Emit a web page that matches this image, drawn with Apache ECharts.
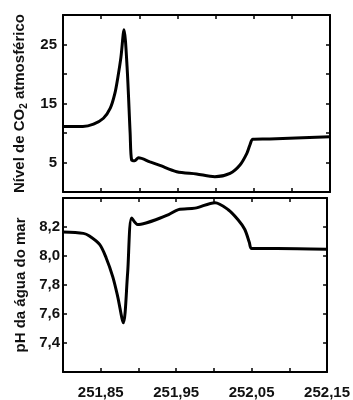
<!DOCTYPE html>
<html><head><meta charset="utf-8">
<script src="https://cdn.jsdelivr.net/npm/echarts@6/dist/echarts.min.js"></script>
<style>html,body{margin:0;padding:0;background:#fff}#c{width:353px;height:400px}</style>
</head><body><div id="c"></div>
<script>
const co2X = [251.800, 251.826, 251.840, 251.853, 251.862, 251.868, 251.872, 251.876, 251.880, 251.884, 251.888, 251.890, 251.894, 251.899, 251.914, 251.927, 251.949, 251.975, 251.999, 252.019, 252.032, 252.041, 252.045, 252.049, 252.071, 252.150];
const co2Y = [11.1, 11.1, 11.5, 12.5, 14.2, 16.7, 19.5, 22.9, 27.5, 21.2, 10.0, 5.4, 5.3, 5.8, 5.1, 4.5, 3.44, 3.05, 2.6, 3.17, 4.58, 6.56, 7.97, 8.93, 8.98, 9.37];
const phX = [251.800, 251.827, 251.835, 251.8485, 251.857, 251.866, 251.8725, 251.880, 251.8856, 251.891, 251.899, 251.910, 251.923, 251.940, 251.953, 251.975, 252.0015, 252.019, 252.032, 252.041, 252.047, 252.050, 252.084, 252.150];
const phY = [8.165, 8.156, 8.138, 8.08, 7.99, 7.856, 7.72, 7.539, 7.878, 8.262, 8.217, 8.228, 8.25, 8.285, 8.32, 8.33, 8.368, 8.319, 8.25, 8.183, 8.093, 8.052, 8.052, 8.047];
const xTicks = [251.85, 251.95, 252.05, 252.15];
const co2Ticks = [5, 15, 25];
const phTicks = [7.4, 7.6, 7.8, 8.0, 8.2];
const co2Title = 'Nível de CO{s|2} atmosférico';
const phTitle = 'pH da água do mar';

const FONT = '"Liberation Sans", Arial, sans-serif';
const near = (v, arr) => arr.some(t => Math.abs(t - v) < 1e-6);
const fmtComma = (v, d) => v.toFixed(d).replace('.', ',');

const axisLine = {show: true, onZero: false, lineStyle: {color: '#000', width: 2}};
const tick = {show: true, inside: true, length: 4, lineStyle: {color: '#000', width: 1.5}};
const lblBase = {color: '#111', fontFamily: FONT, fontWeight: 'bold', fontSize: 15};

function xAx(grid, pos, showLbl) {
  return {type: 'value', gridIndex: grid, position: pos, min: 251.8, max: 252.15, interval: 0.05,
    axisLine, axisTick: tick, splitLine: {show: false},
    axisLabel: Object.assign({show: showLbl, margin: 13, formatter: v => near(v, xTicks) ? fmtComma(v, 2) : ''}, lblBase)};
}
function yAx(grid, pos, min, max, interval, ticks, dec, showLbl, margin, name) {
  const o = {type: 'value', gridIndex: grid, position: pos, min, max, interval,
    axisLine, axisTick: tick, splitLine: {show: false},
    axisLabel: Object.assign({show: showLbl, margin, formatter: v => near(v, ticks) ? fmtComma(v, dec) : ''}, lblBase)};
  if (name) {
    o.name = name; o.nameLocation = 'middle'; o.nameGap = 31; o.nameRotate = 90;
    o.nameTextStyle = {color: '#111', fontFamily: FONT, fontWeight: 'bold', fontSize: 15,
      rich: {s: {fontFamily: FONT, fontWeight: 'bold', fontSize: 10, padding: [10, 0, 0, 0], color: '#111'}}};
  }
  return o;
}

const chart = echarts.init(document.getElementById('c'), null, {renderer: 'canvas'});
chart.setOption({
  animation: false,
  backgroundColor: '#fff',
  grid: [
    {left: 63, top: 15, width: 267, height: 177},
    {left: 63, top: 198, width: 267, height: 177}
  ],
  xAxis: [xAx(0, 'bottom', false), xAx(0, 'top', false), xAx(1, 'bottom', true), xAx(1, 'top', false)],
  yAxis: [
    yAx(0, 'left', 0, 30, 5, co2Ticks, 0, true, 6, co2Title),
    yAx(0, 'right', 0, 30, 5, co2Ticks, 0, false, 0),
    yAx(1, 'left', 7.2, 8.4, 0.2, phTicks, 1, true, 3, phTitle),
    yAx(1, 'right', 7.2, 8.4, 0.2, phTicks, 1, false, 0)
  ],
  series: [
    {type: 'line', xAxisIndex: 0, yAxisIndex: 0, showSymbol: false, smooth: 0.3,
      lineStyle: {color: '#000', width: 3}, data: co2X.map((x, i) => [x, co2Y[i]])},
    {type: 'line', xAxisIndex: 2, yAxisIndex: 2, showSymbol: false, smooth: 0.3,
      lineStyle: {color: '#000', width: 3}, data: phX.map((x, i) => [x, phY[i]])}
  ]
});
</script></body></html>
